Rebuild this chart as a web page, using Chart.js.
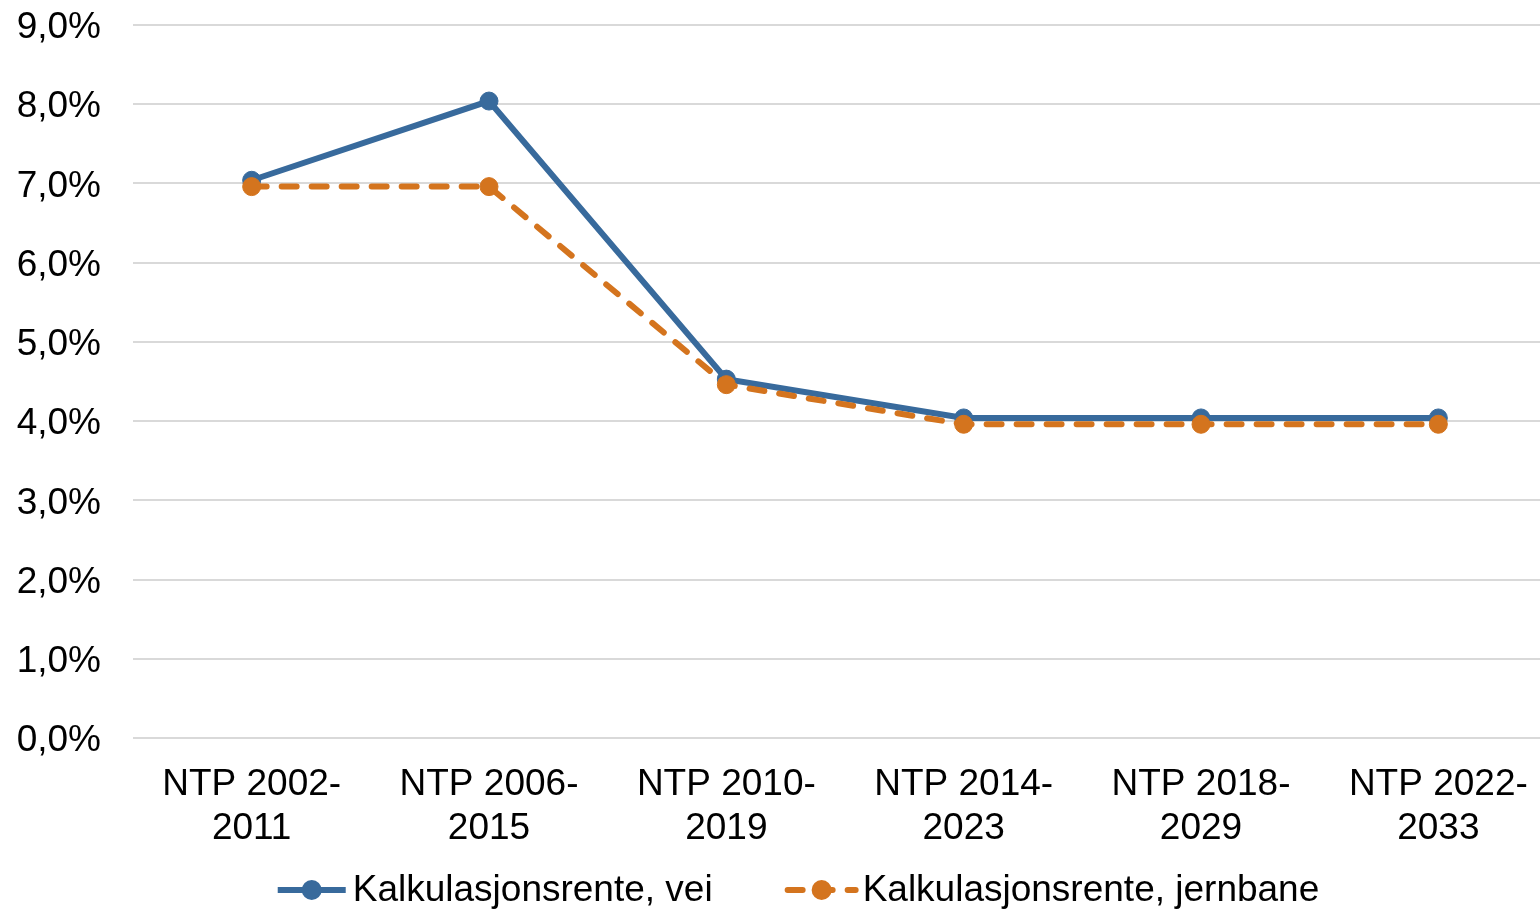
<!DOCTYPE html>
<html>
<head>
<meta charset="utf-8">
<script src="https://cdn.jsdelivr.net/npm/chart.js@4/dist/chart.umd.min.js"></script>
<style>
  html, body { margin: 0; padding: 0; background: #fff; overflow: hidden; }
  #wrap { width: 1560px; height: 912px; }
</style>
</head>
<body>
<div id="wrap"><canvas id="c" width="1560" height="912"></canvas></div>
<script>
const categories = [
  ['NTP 2002-', '2011'],
  ['NTP 2006-', '2015'],
  ['NTP 2010-', '2019'],
  ['NTP 2014-', '2023'],
  ['NTP 2018-', '2029'],
  ['NTP 2022-', '2033']
];
const seriesNames = ['Kalkulasjonsrente, vei', 'Kalkulasjonsrente, jernbane'];
const veiValues = [7.04, 8.04, 4.53, 4.04, 4.04, 4.04];
const jernbaneValues = [6.96, 6.96, 4.46, 3.96, 3.96, 3.96];
const yTicks = [0, 1, 2, 3, 4, 5, 6, 7, 8, 9];

const BLUE = '#386A9C';
const ORANGE = '#D4741E';
const FONT = 'Liberation Sans, Arial, sans-serif';
const FSIZE = 37;

const legendPlugin = {
  id: 'customLegend',
  afterDraw(chart) {
    const ctx = chart.ctx;
    const ds = chart.data.datasets;
    ctx.save();
    ctx.font = FSIZE + 'px ' + FONT;
    const sampleW = 74, gap = 4, itemGap = 72;
    const widths = ds.map(d => sampleW + gap + ctx.measureText(d.label).width);
    const total = widths.reduce((a, b) => a + b, 0) + itemGap * (ds.length - 1);
    let x = 797 - total / 2;
    const y = 890;
    ds.forEach((d, i) => {
      ctx.strokeStyle = d.borderColor;
      ctx.lineWidth = 6;
      ctx.lineCap = d.borderDash && d.borderDash.length ? 'round' : 'butt';
      ctx.setLineDash(d.borderDash || []);
      ctx.beginPath();
      ctx.moveTo(x + 3, y);
      ctx.lineTo(x + sampleW - 3, y);
      ctx.stroke();
      ctx.setLineDash([]);
      ctx.fillStyle = d.pointBackgroundColor;
      ctx.beginPath();
      ctx.arc(x + sampleW / 2, y, 10, 0, Math.PI * 2);
      ctx.fill();
      ctx.fillStyle = '#000';
      ctx.textBaseline = 'middle';
      ctx.textAlign = 'left';
      ctx.fillText(d.label, x + sampleW + gap, y + 1);
      x += widths[i] + itemGap;
    });
    ctx.restore();
  }
};

new Chart(document.getElementById('c'), {
  type: 'line',
  data: {
    labels: categories,
    datasets: [
      {
        label: seriesNames[0],
        data: veiValues,
        borderColor: BLUE,
        backgroundColor: BLUE,
        pointBackgroundColor: BLUE,
        pointBorderColor: BLUE,
        borderWidth: 6,
        pointRadius: 9,
        pointHoverRadius: 9,
        pointBorderWidth: 1,
        tension: 0,
        order: 2
      },
      {
        label: seriesNames[1],
        data: jernbaneValues,
        borderColor: ORANGE,
        backgroundColor: ORANGE,
        pointBackgroundColor: ORANGE,
        pointBorderColor: ORANGE,
        borderWidth: 6,
        borderDash: [15, 15],
        borderCapStyle: 'round',
        pointRadius: 9,
        pointHoverRadius: 9,
        pointBorderWidth: 1,
        tension: 0,
        order: 1
      }
    ]
  },
  options: {
    responsive: false,
    animation: false,
    devicePixelRatio: 1,
    layout: { autoPadding: false, padding: { top: 25, left: 0, right: 3, bottom: 64 } },
    plugins: {
      legend: { display: false },
      tooltip: { enabled: false }
    },
    scales: {
      x: {
        offset: true,
        grid: { display: false, drawTicks: false },
        border: { display: false },
        ticks: {
          color: '#000',
          padding: 25,
          maxRotation: 0,
          autoSkip: false,
          font: { family: FONT, size: FSIZE, lineHeight: 44 / FSIZE }
        },
        afterFit(scale) { scale.height = 110; }
      },
      y: {
        min: 0,
        max: 9,
        afterBuildTicks(scale) { scale.ticks = yTicks.map(v => ({ value: v })); },
        grid: { color: '#D9D9D9', lineWidth: 2, drawTicks: true, tickLength: 32, tickColor: 'rgba(0,0,0,0)' },
        border: { display: false },
        ticks: {
          color: '#000',
          padding: 0,
          labelOffset: 3,
          font: { family: FONT, size: FSIZE },
          callback: v => v.toFixed(1).replace('.', ',') + '%'
        },
        afterFit(scale) { scale.width = 133; }
      }
    }
  },
  plugins: [legendPlugin]
});
</script>
</body>
</html>
